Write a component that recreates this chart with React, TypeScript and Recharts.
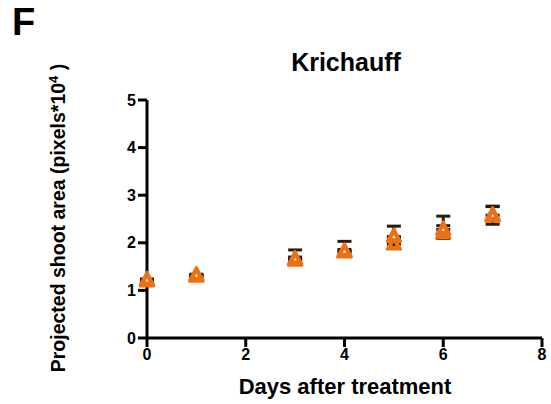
import { ScatterChart, Scatter, XAxis, YAxis, ErrorBar } from "recharts";

// days after treatment
const days = [0, 1, 3, 4, 5, 6, 7];
// two overlapping replicate series (pixels * 10^4)
const meanA = [1.19, 1.29, 1.63, 1.8, 1.97, 2.2, 2.55];
const lowA = [0, 0, 0, 0, 0, 0.11, 0.16];
const highA = [0.02, 0.02, 0.22, 0.23, 0.13, 0.16, 0.21];
const meanB = [1.22, 1.32, 1.66, 1.82, 2.13, 2.28, 2.58];
const lowB = [0, 0, 0, 0, 0, 0, 0];
const highB = [0.02, 0.02, 0.04, 0.04, 0.22, 0.28, 0.19];
const xTicks = [0, 2, 4, 6, 8];
const yTicks = [0, 1, 2, 3, 4, 5];

const seriesA = days.map((d, i) => ({ day: d, value: meanA[i], err: [lowA[i], highA[i]] }));
const seriesB = days.map((d, i) => ({ day: d, value: meanB[i], err: [lowB[i], highB[i]] }));

const ORANGE = "#ec7014";
const DARK = "#2b1a0c";
const FONT = "'Liberation Sans', Arial, sans-serif";

const noMark = () => <g />;

const makeTriangle = (inner: string) => (props: any) => {
  const { cx, cy } = props;
  if (cx == null || cy == null) return <g />;
  return (
    <g>
      <polygon
        points={`${cx},${cy - 8} ${cx - 7},${cy + 5} ${cx + 7},${cy + 5}`}
        fill={ORANGE}
        stroke={ORANGE}
        strokeWidth={2.5}
        strokeLinejoin="round"
      />
      <polygon
        points={`${cx},${cy - 1.5} ${cx - 1.6},${cy + 1.5} ${cx + 1.6},${cy + 1.5}`}
        fill={inner}
      />
    </g>
  );
};

const tickStyle = { fontSize: 16, fontWeight: 700, fill: "#000", fontFamily: FONT };

export default function App() {
  return (
    <div style={{ position: "absolute", left: 0, top: 0, width: 551, height: 404, background: "#fff", fontFamily: FONT }}>
      <ScatterChart width={551} height={404} margin={{ top: 100, right: 9, bottom: 6, left: 0 }}>
        <XAxis
          type="number"
          dataKey="day"
          domain={[0, 8]}
          ticks={xTicks}
          height={60}
          axisLine={{ stroke: "#000", strokeWidth: 3 }}
          tickLine={{ stroke: "#000", strokeWidth: 3 }}
          tickSize={9}
          tickMargin={2}
          tick={tickStyle}
        />
        <YAxis
          type="number"
          dataKey="value"
          domain={[0, 5]}
          ticks={yTicks}
          width={147}
          axisLine={{ stroke: "#000", strokeWidth: 3 }}
          tickLine={{ stroke: "#000", strokeWidth: 3 }}
          tickSize={9}
          tickMargin={2}
          tick={tickStyle}
        />
        <Scatter data={seriesA} shape={noMark} isAnimationActive={false}>
          <ErrorBar dataKey="err" direction="y" width={7} strokeWidth={3} stroke={DARK} />
        </Scatter>
        <Scatter data={seriesB} shape={noMark} isAnimationActive={false}>
          <ErrorBar dataKey="err" direction="y" width={7} strokeWidth={3} stroke={DARK} />
        </Scatter>
        <Scatter data={seriesA} shape={makeTriangle("#111")} isAnimationActive={false} />
        <Scatter data={seriesB} shape={makeTriangle("#fff")} isAnimationActive={false} />
      </ScatterChart>
      <div style={{ position: "absolute", left: 12, top: 1, fontSize: 38, fontWeight: 700, color: "#000" }}>F</div>
      <div style={{ position: "absolute", left: 346, top: 48, transform: "translateX(-50%)", fontSize: 25, fontWeight: 700, whiteSpace: "nowrap", color: "#000" }}>
        Krichauff
      </div>
      <div style={{ position: "absolute", left: 345, top: 374, transform: "translateX(-50%)", fontSize: 22, fontWeight: 700, whiteSpace: "nowrap", color: "#000" }}>
        Days after treatment
      </div>
      <div
        style={{
          position: "absolute",
          left: 58,
          top: 218,
          transform: "translate(-50%, -50%) rotate(-90deg)",
          fontSize: 19.5,
          fontWeight: 700,
          whiteSpace: "nowrap",
          color: "#000",
        }}
      >
        Projected shoot area (pixels*10<sup style={{ fontSize: 13 }}>4</sup> )
      </div>
    </div>
  );
}
